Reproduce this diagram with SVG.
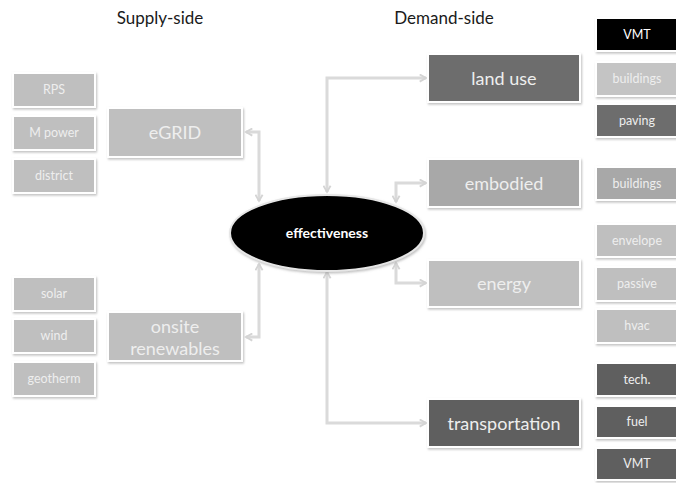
<svg xmlns="http://www.w3.org/2000/svg" width="676" height="483" viewBox="0 0 676 483">
<defs>
<filter id="sh" x="-10%" y="-10%" width="130%" height="140%">
<feDropShadow dx="1" dy="1.5" stdDeviation="1.2" flood-color="#8a8a8a" flood-opacity="0.55"/>
</filter>
<marker id="ar" viewBox="0 0 10 10" refX="8" refY="5" markerWidth="9" markerHeight="9" markerUnits="userSpaceOnUse" orient="auto-start-reverse">
<path d="M1,1 L8,5 L1,9" fill="none" stroke="#d4d4d4" stroke-width="2"/>
</marker>
</defs>
<style>
text{font-family:Lato,"Open Sans","Liberation Sans",sans-serif;text-anchor:middle}
.box{stroke:#ffffff;stroke-width:2;filter:url(#sh)}
.hd{font-size:17px;fill:#1a1a1a}
.sm{font-size:12.5px;fill:#eeeeee}
.md{font-size:18px;fill:#eeeeee}
.lt{fill:#bfbfbf}
.mid{fill:#a8a8a8}
.dk{fill:#6d6d6d}
.dk2{fill:#5e5e5e}
.bk{fill:#000000}
.conn{fill:none;stroke:#dadada;stroke-width:3;marker-start:url(#ar);marker-end:url(#ar)}
</style>
<rect width="676" height="483" fill="#ffffff"/>
<g id="headers">
<text class="hd" x="160" y="24">Supply-side</text>
<text class="hd" x="444" y="24">Demand-side</text>
</g>
<g id="connectors">
<path class="conn" d="M259,201 V132 H246"/>
<path class="conn" d="M327,192 V78 H426"/>
<path class="conn" d="M396,202 V183 H426"/>
<path class="conn" d="M396,263 V283 H426"/>
<path class="conn" d="M259,264 V337 H246"/>
<path class="conn" d="M327,272 V423 H426"/>
</g>
<g id="effectiveness">
<ellipse cx="327" cy="233" rx="97" ry="38" fill="#000000" stroke="#e6e6e6" stroke-width="2" filter="url(#sh)"/>
<text x="327" y="238" font-size="14" font-weight="bold" fill="#ffffff">effectiveness</text>
</g>
<g id="rps"><rect class="box lt" x="13" y="73" width="82" height="34"/><text class="sm" x="54" y="94">RPS</text></g>
<g id="mpower"><rect class="box lt" x="13" y="116" width="82" height="34"/><text class="sm" x="54" y="137">M power</text></g>
<g id="district"><rect class="box lt" x="13" y="159" width="82" height="34"/><text class="sm" x="54" y="180">district</text></g>
<g id="egrid"><rect class="box lt" x="108" y="108" width="134" height="49"/><text class="md" x="175" y="139">eGRID</text></g>
<g id="solar"><rect class="box lt" x="13" y="277" width="82" height="34"/><text class="sm" x="54" y="298">solar</text></g>
<g id="wind"><rect class="box lt" x="13" y="319" width="82" height="34"/><text class="sm" x="54" y="340">wind</text></g>
<g id="geotherm"><rect class="box lt" x="13" y="362" width="82" height="34"/><text class="sm" x="54" y="383">geotherm</text></g>
<g id="onsite"><rect class="box lt" x="108" y="312" width="134" height="49"/><text class="md" x="175" y="333">onsite</text><text class="md" x="175" y="355">renewables</text></g>
<g id="landuse"><rect class="box dk" x="428" y="54" width="152" height="48"/><text class="md" x="504" y="85">land use</text></g>
<g id="embodied"><rect class="box mid" x="428" y="159" width="152" height="48"/><text class="md" x="504" y="190">embodied</text></g>
<g id="energy"><rect class="box lt" x="428" y="260" width="152" height="47"/><text class="md" x="504" y="290">energy</text></g>
<g id="transportation"><rect class="box dk2" x="428" y="399" width="152" height="48"/><text class="md" x="504" y="430" font-size="17">transportation</text></g>
<g id="vmt1"><rect class="box bk" x="596" y="18" width="84" height="33"/><text class="sm" x="637" y="39" style="fill:#ffffff">VMT</text></g>
<g id="buildings1"><rect class="box" x="596" y="62" width="84" height="34" fill="#c4c4c4"/><text class="sm" x="637" y="83">buildings</text></g>
<g id="paving"><rect class="box dk" x="596" y="104" width="84" height="33"/><text class="sm" x="637" y="125">paving</text></g>
<g id="buildings2"><rect class="box mid" x="596" y="167" width="84" height="33"/><text class="sm" x="637" y="188">buildings</text></g>
<g id="envelope"><rect class="box lt" x="596" y="224" width="84" height="33"/><text class="sm" x="637" y="245">envelope</text></g>
<g id="passive"><rect class="box lt" x="596" y="267" width="84" height="34"/><text class="sm" x="637" y="288">passive</text></g>
<g id="hvac"><rect class="box lt" x="596" y="309" width="84" height="34"/><text class="sm" x="637" y="330">hvac</text></g>
<g id="tech"><rect class="box dk2" x="596" y="363" width="84" height="33"/><text class="sm" x="637" y="384">tech.</text></g>
<g id="fuel"><rect class="box dk2" x="596" y="406" width="84" height="32"/><text class="sm" x="637" y="426">fuel</text></g>
<g id="vmt2"><rect class="box dk2" x="596" y="448" width="84" height="32"/><text class="sm" x="637" y="468">VMT</text></g>
</svg>
